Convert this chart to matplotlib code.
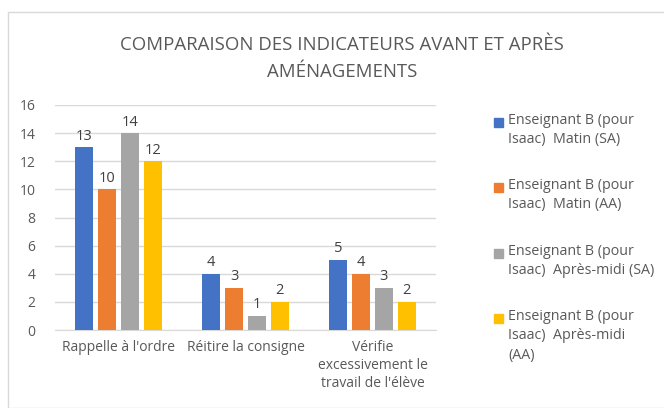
import matplotlib.pyplot as plt
import numpy as np
from matplotlib.patches import Rectangle

categories = ["Rappelle à l'ordre", "Réitire la consigne",
              "Vérifie\nexcessivement le\ntravail de l'élève"]
series_labels = ["Enseignant B (pour\nIsaac)  Matin (SA)",
                 "Enseignant B (pour\nIsaac)  Matin (AA)",
                 "Enseignant B (pour\nIsaac)  Après-midi (SA)",
                 "Enseignant B (pour\nIsaac)  Après-midi\n(AA)"]
matin_sa = [13, 4, 5]
matin_aa = [10, 3, 4]
aprem_sa = [14, 1, 3]
aprem_aa = [12, 2, 2]
colors = ["#4472C4", "#ED7D31", "#A5A5A5", "#FFC000"]

plt.rcParams['font.family'] = ['Open Sans', 'DejaVu Sans']
txt = "#595959"

fig = plt.figure(figsize=(6.64, 4.08), dpi=100)
fig.patches.append(Rectangle((8/664, 0), 1, 1 - 12/408, transform=fig.transFigure,
                             fill=False, edgecolor="#D9D9D9", linewidth=1))
ax = fig.add_axes([55/664, 1 - 330/408, 381/664, 225/408])

x = np.arange(len(categories))
w = 0.14
step = 0.18
all_series = [matin_sa, matin_aa, aprem_sa, aprem_aa]
for i, vals in enumerate(all_series):
    pos = x + (i - 1.5) * step
    bars = ax.bar(pos, vals, width=w, color=colors[i], zorder=3)
    for b, v in zip(bars, vals):
        ax.text(b.get_x() + b.get_width() / 2, v + 0.25, str(v), ha="center",
                va="bottom", fontsize=10.5, color="#404040")

ax.set_xlim(-0.5, 2.5)
ax.set_ylim(0, 16)
ax.set_yticks(range(0, 17, 2))
ax.set_xticks(x)
ax.set_xticklabels(categories, fontsize=10, color=txt, linespacing=1.3)
ax.tick_params(axis="y", labelsize=10, colors=txt, length=0, pad=14)
ax.tick_params(axis="x", length=0, pad=7)
ax.grid(axis="y", color="#D9D9D9", linewidth=1, zorder=0)
for s in ["top", "right", "left"]:
    ax.spines[s].set_visible(False)
ax.spines["bottom"].set_color("#D9D9D9")

fig.text(342/664, 1 - 45/408, "COMPARAISON DES INDICATEURS AVANT ET APRÈS",
         ha="center", va="center", fontsize=13.4, color=txt)
fig.text(342/664, 1 - 72/408, "AMÉNAGEMENTS",
         ha="center", va="center", fontsize=13.4, color=txt)

ys = [122, 187, 253, 318]
for i, lab in enumerate(series_labels):
    fig.patches.append(Rectangle((494/664, 1 - (ys[i] + 5)/408), 9/664, 9/408,
                                 transform=fig.transFigure, color=colors[i]))
    fig.text(508/664, 1 - (ys[i] - 9)/408, lab, ha="left", va="top",
             fontsize=10.3, color=txt, linespacing=1.4)

fig.savefig("out.png", dpi=100)
